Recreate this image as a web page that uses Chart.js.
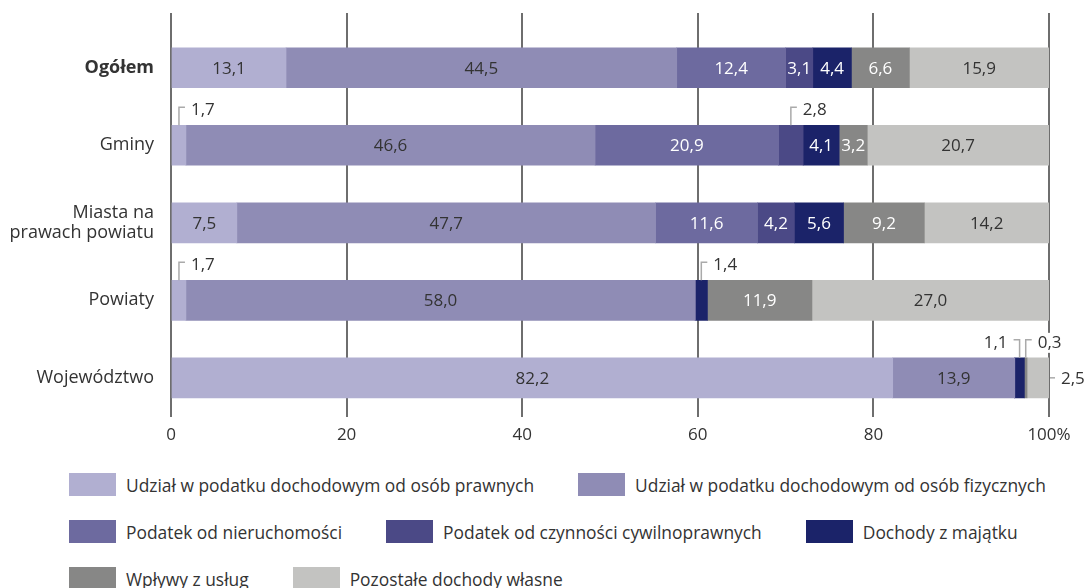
<!DOCTYPE html>
<html lang="pl">
<head>
<meta charset="utf-8">
<script src="https://cdn.jsdelivr.net/npm/chart.js@4.4.1/dist/chart.umd.min.js"></script>
<style>
  body { margin: 0; background: #fff; }
  #wrap { position: relative; width: 1086px; height: 588px; overflow: hidden; }
  #box { position: absolute; left: 0; top: 0; width: 1086px; height: 460px; }
  #legenda { position: absolute; left: 69px; top: 473px; width: 1017px; font-family: "Open Sans", sans-serif; font-size: 17.4px; color: #333; white-space: nowrap; }
  .wiersz { display: flex; align-items: center; height: 23px; margin-bottom: 24px; }
  .poz { display: flex; align-items: center; margin-right: 44px; }
  .kw { width: 47px; height: 23px; margin-right: 10px; flex: none; }
</style>
</head>
<body>
<div id="wrap">
  <div id="box"><canvas id="wykres"></canvas></div>
  <div id="legenda"></div>
</div>
<script>
// kategorie i serie (struktura dochodów własnych, %)
const kategorie = ['Ogółem', 'Gminy', ['Miasta na', 'prawach powiatu'], 'Powiaty', 'Województwo'];
const nazwySerii = [
  'Udział w podatku dochodowym od osób prawnych',
  'Udział w podatku dochodowym od osób fizycznych',
  'Podatek od nieruchomości',
  'Podatek od czynności cywilnoprawnych',
  'Dochody z majątku',
  'Wpływy z usług',
  'Pozostałe dochody własne'
];
const udzialCIT = [13.1, 1.7, 7.5, 1.7, 82.2];
const udzialPIT = [44.5, 46.6, 47.7, 58.0, 13.9];
const podNieruchomosci = [12.4, 20.9, 11.6, 0, 0];
const podCzynnosci = [3.1, 2.8, 4.2, 0, 0];
const dochodyMajatek = [4.4, 4.1, 5.6, 1.4, 1.1];
const wplywyUslugi = [6.6, 3.2, 9.2, 11.9, 0.3];
const pozostale = [15.9, 20.7, 14.2, 27.0, 2.5];
const ticksX = [0, 20, 40, 60, 80, 100];

const kolory = ['#b1afd1', '#8f8cb5', '#6d6a9f', '#4b4986', '#1b2369', '#878786', '#c3c3c1'];
const kolorTekstu = ['#333', '#333', '#fff', '#fff', '#fff', '#fff', '#333'];
const wiersze = [[0, 1], [2, 3, 4], [5, 6]];

const serie = [udzialCIT, udzialPIT, podNieruchomosci, podCzynnosci, dochodyMajatek, wplywyUslugi, pozostale];
const FONT = '"Open Sans", sans-serif';

function fmt(v) {
  return v.toFixed(1).replace('.', ',');
}

// przedłużenie linii siatki nad wykres
const siatkaGora = {
  id: 'siatkaGora',
  beforeDatasetsDraw(chart) {
    const { ctx, chartArea, scales } = chart;
    ctx.save();
    ctx.strokeStyle = '#6e6e6e';
    ctx.lineWidth = 2;
    ticksX.forEach(v => {
      const x = Math.round(scales.x.getPixelForValue(v));
      ctx.beginPath();
      ctx.moveTo(x, chartArea.top - 16);
      ctx.lineTo(x, chartArea.top + 1);
      ctx.stroke();
    });
    ctx.restore();
  }
};

// tekst odnośnika na białym tle
function napis(ctx, txt, x, y, align) {
  const w = ctx.measureText(txt).width;
  const x0 = align === 'left' ? x - 2 : x - w - 2;
  ctx.fillStyle = '#fff';
  ctx.fillRect(x0, y - 10, w + 4, 20);
  ctx.fillStyle = '#333';
  ctx.textAlign = align;
  ctx.fillText(txt, x, y);
}

// etykiety wartości + odnośniki dla małych wartości
const etykiety = {
  id: 'etykiety',
  afterDatasetsDraw(chart) {
    const ctx = chart.ctx;
    ctx.save();
    ctx.font = '17px ' + FONT;
    ctx.textBaseline = 'middle';
    kategorie.forEach((k, j) => {
      const niezerowe = serie.map((s, i) => i).filter(i => serie[i][j] > 0);
      niezerowe.forEach((i, n) => {
        const v = serie[i][j];
        const el = chart.getDatasetMeta(i).data[j];
        const p = el.getProps(['x', 'y', 'base', 'height'], true);
        const cx = (p.x + p.base) / 2;
        const top = p.y - p.height / 2;
        if (v >= 3) {
          ctx.fillStyle = kolorTekstu[i];
          ctx.textAlign = 'center';
          ctx.fillText(fmt(v), cx, p.y + 1);
          return;
        }
        ctx.strokeStyle = '#aaa';
        ctx.lineWidth = 1.5;
        const ostatni = n === niezerowe.length - 1;
        if (ostatni) {
          ctx.beginPath();
          ctx.moveTo(p.x + 1, p.y);
          ctx.lineTo(p.x + 6, p.y);
          ctx.stroke();
          napis(ctx, fmt(v), p.x + 12, p.y + 1, 'left');
          return;
        }
        const nast = niezerowe[n + 1];
        const nastMaly = serie[nast][j] < 3 && n + 1 < niezerowe.length - 1;
        const dir = nastMaly ? -1 : 1;
        ctx.beginPath();
        ctx.moveTo(cx, top);
        ctx.lineTo(cx, top - 18);
        ctx.lineTo(cx + dir * 6, top - 18);
        ctx.stroke();
        napis(ctx, fmt(v), cx + dir * 12, top - 15, dir > 0 ? 'left' : 'right');
      });
    });
    ctx.restore();
  }
};

const wykres = new Chart(document.getElementById('wykres'), {
  type: 'bar',
  data: {
    labels: kategorie,
    datasets: serie.map((s, i) => ({
      label: nazwySerii[i],
      data: s,
      backgroundColor: kolory[i],
      borderWidth: 0,
      barThickness: 40
    }))
  },
  options: {
    indexAxis: 'y',
    responsive: true,
    maintainAspectRatio: false,
    animation: false,
    layout: { padding: { top: 29, right: 37, bottom: 7, left: 0 } },
    plugins: { legend: { display: false }, tooltip: { enabled: false } },
    scales: {
      x: {
        stacked: true,
        min: 0,
        max: 100,
        border: { display: false },
        grid: { color: '#6e6e6e', lineWidth: 2, drawTicks: false },
        ticks: {
          stepSize: 20,
          padding: 8,
          color: '#333',
          font: { family: FONT, size: 17 },
          callback: v => v === 100 ? '100%' : v
        }
      },
      y: {
        stacked: true,
        border: { display: false },
        grid: { display: false, drawTicks: false },
        afterFit: s => { s.width = 171; },
        ticks: {
          padding: 17,
          color: '#333',
          font: c => ({ family: FONT, size: 18, weight: c.index === 0 ? 'bold' : 'normal', lineHeight: 1.15 })
        }
      }
    }
  },
  plugins: [siatkaGora, etykiety]
});

// legenda
const leg = document.getElementById('legenda');
wiersze.forEach(w => {
  const r = document.createElement('div');
  r.className = 'wiersz';
  w.forEach(i => {
    const p = document.createElement('div');
    p.className = 'poz';
    p.innerHTML = '<div class="kw" style="background:' + kolory[i] + '"></div><span>' + nazwySerii[i] + '</span>';
    r.appendChild(p);
  });
  leg.appendChild(r);
});
</script>
</body>
</html>
